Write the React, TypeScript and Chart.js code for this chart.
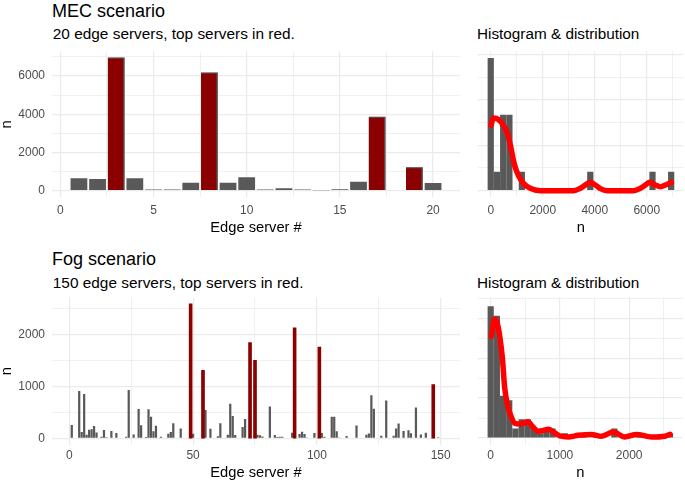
import React, { useEffect, useRef } from 'react';
import { Chart, registerables } from 'chart.js';

Chart.register(...registerables);

// ---------------- DATA ----------------
// MEC scenario: 20 edge servers
const mecServers = [1, 2, 3, 4, 5, 6, 7, 8, 9, 10, 11, 12, 13, 14, 15, 16, 17, 18, 19, 20];
const mecCounts = [645, 610, 6970, 645, 60, 65, 419, 6190, 419, 698, 55, 122, 55, 25, 80, 471, 3872, 30, 1221, 401];
const mecTopServers = [3, 8, 17, 19];

// MEC histogram (30 bins) and density curve
const mecHistBinWidth = 239.3;
const mecHistCounts = [7, 1, 4, 4, 0, 1, 0, 0, 0, 0, 0, 0, 0, 0, 0, 0, 1, 0, 0, 0, 0, 0, 0, 0, 0, 0, 1, 0, 0, 1];
const mecDensityX = [10, 103, 296, 488, 643, 771, 900, 1067, 1260, 1517, 1902, 3187, 3444, 3637, 3830, 4023, 4215, 4472, 5500, 5757, 5950, 6117, 6336, 6529, 6721, 6950];
const mecDensityE4 = [7.2, 8.0, 7.85, 7.2, 6.3, 4.8, 3.0, 1.65, 0.8, 0.26, 0, 0, 0.26, 0.62, 0.92, 0.62, 0.22, 0, 0, 0.26, 0.62, 0.92, 0.62, 0.44, 0.62, 0.92];

// Fog scenario: 150 edge servers (servers without a visible bar omitted)
const fogServers = [1, 4, 5, 6, 7, 8, 9, 10, 11, 13, 14, 15, 17, 19, 23, 24, 26, 28, 29, 31, 32, 33, 34, 35, 37, 40, 41, 42, 45, 49, 50, 54, 55, 57, 60, 61, 64, 65, 66, 67, 70, 71, 73, 75, 76, 77, 78, 81, 83, 84, 85, 86, 90, 91, 93, 94, 95, 96, 99, 101, 102, 103, 106, 107, 108, 109, 112, 116, 120, 121, 122, 123, 126, 128, 131, 132, 133, 135, 137, 138, 140, 142, 144, 147, 149];
const fogCounts = [255, 915, 120, 855, 70, 165, 175, 235, 110, 30, 160, 20, 140, 103, 30, 930, 72, 565, 252, 25, 560, 415, 138, 240, 30, 87, 122, 292, 190, 2590, 87, 1305, 546, 186, 40, 289, 68, 665, 430, 62, 220, 373, 1840, 1500, 68, 60, 35, 615, 62, 25, 28, 28, 105, 2125, 85, 128, 83, 15, 100, 1755, 100, 30, 415, 415, 138, 15, 42, 248, 67, 93, 833, 572, 48, 730, 48, 190, 285, 143, 157, 99, 595, 74, 105, 1030, 20];
const fogTopServers = [49, 54, 73, 75, 91, 101, 147];

// Fog histogram (30 bins) and density curve
const fogHistBinWidth = 89.3;
const fogHistCounts = [28, 26, 9, 8, 2, 4, 4, 2, 1, 2, 2, 0, 1, 0, 0, 1, 0, 1, 0, 0, 2, 0, 0, 0, 1, 0, 0, 0, 0, 1];
const fogDensityX = [10, 53, 96, 135, 169, 202, 251, 299, 347, 424, 496, 545, 593, 689, 761, 834, 906, 1002, 1118, 1263, 1455, 1600, 1769, 1937, 2106, 2323, 2516, 2590];
const fogDensityE4 = [25.5, 29.8, 28.7, 25.0, 20.0, 12.6, 7.7, 5.2, 3.7, 3.5, 3.8, 4.1, 3.1, 1.7, 1.9, 2.2, 1.5, 0.5, 0.25, 0.66, 0.9, 0.41, 1.48, 0.25, 0.9, 0.25, 0.45, 0.9];

// ---------------- STYLE ----------------
const FONT = '"Liberation Sans", Arial, Helvetica, sans-serif';
const GREY = '#595959';
const RED = '#8B0000';
const LINE_RED = '#FF0000';
const GRID = '#EBEBEB';
const TICK_COLOR = '#4D4D4D';

type AxisCfg = {
  min: number;
  max: number;
  step: number;
  majorStep: number;
  labels: boolean;
  title?: string;
  tickPadding?: number;
  titlePadding?: { top: number; bottom: number };
  titleLineHeight?: number;
  size: number;
  isX: boolean;
};

function gridAxis(c: AxisCfg): any {
  const isMajor = (v: number) => Math.abs(v / c.majorStep - Math.round(v / c.majorStep)) < 1e-6;
  return {
    type: 'linear',
    min: c.min,
    max: c.max,
    bounds: 'data',
    offset: false,
    afterBuildTicks: (scale: any) => {
      const k0 = Math.ceil(c.min / c.step - 1e-9);
      const k1 = Math.floor(c.max / c.step + 1e-9);
      const t: any[] = [];
      for (let k = k0; k <= k1; k++) t.push({ value: k * c.step });
      scale.ticks = t;
    },
    afterFit: (scale: any) => {
      if (c.isX) scale.height = c.size;
      else scale.width = c.size;
      scale.paddingTop = 0;
      scale.paddingBottom = 0;
      scale.paddingLeft = 0;
      scale.paddingRight = 0;
    },
    grid: {
      offset: false,
      drawTicks: false,
      color: GRID,
      lineWidth: (ctx: any) => (ctx.tick && isMajor(ctx.tick.value) ? 1.2 : 0.75),
    },
    border: { display: false },
    ticks: {
      display: c.labels,
      autoSkip: false,
      maxRotation: 0,
      minRotation: 0,
      padding: c.tickPadding ?? 0,
      color: TICK_COLOR,
      font: { family: FONT, size: 12 },
      callback: (v: any) => (isMajor(Number(v)) ? String(Math.round(Number(v))) : ''),
    },
    title: c.title
      ? {
          display: true,
          text: c.title,
          color: '#000000',
          font: { family: FONT, size: 14.7, lineHeight: c.titleLineHeight ?? 1.2 },
          padding: c.titlePadding ?? { top: 0, bottom: 0 },
        }
      : { display: false },
  };
}

function baseOptions(padding: any, x: any, y: any): any {
  return {
    responsive: false,
    maintainAspectRatio: false,
    animation: false,
    devicePixelRatio: 1,
    events: [],
    layout: { padding },
    plugins: { legend: { display: false }, tooltip: { enabled: false }, title: { display: false } },
    scales: { x, y },
  };
}

function serverConfig(servers: number[], counts: number[], top: number[], opts: any): any {
  const lookup = (s: number) => counts[servers.indexOf(s)];
  return {
    type: 'bar',
    data: {
      datasets: [
        {
          type: 'bar',
          data: servers.map((s, i) => ({ x: s, y: counts[i] })),
          backgroundColor: GREY,
          barPercentage: 0.9,
          categoryPercentage: 1,
          grouped: false,
          inflateAmount: 0,
          order: 2,
        },
        {
          type: 'bar',
          data: top.map((s) => ({ x: s, y: lookup(s) })),
          backgroundColor: RED,
          borderColor: GREY,
          borderWidth: opts.redBorder,
          borderSkipped: 'start',
          barPercentage: 0.9,
          categoryPercentage: 1,
          grouped: false,
          inflateAmount: opts.redInflate,
          order: 1,
        },
      ],
    },
    options: baseOptions(opts.padding, opts.x, opts.y),
  };
}

function histConfig(binWidth: number, hist: number[], dx: number[], dyE4: number[], opts: any): any {
  const total = hist.reduce((a, b) => a + b, 0);
  return {
    type: 'bar',
    data: {
      datasets: [
        {
          type: 'line',
          data: dx.map((x, i) => ({ x, y: dyE4[i] * 1e-4 })),
          borderColor: LINE_RED,
          borderWidth: 5.5,
          pointRadius: 0,
          cubicInterpolationMode: 'monotone',
          borderCapStyle: 'round',
          borderJoinStyle: 'round',
          fill: false,
          order: 0,
        },
        {
          type: 'bar',
          data: hist.map((c, i) => ({ x: i * binWidth, y: c / (total * binWidth) })),
          backgroundColor: GREY,
          barPercentage: 1,
          categoryPercentage: 1,
          grouped: false,
          inflateAmount: 0,
          order: 1,
        },
      ],
    },
    options: baseOptions(opts.padding, opts.x, opts.y),
  };
}

// ---------------- PANELS ----------------
function ChartCanvas(props: { left: number; top: number; width: number; height: number; make: () => any }) {
  const ref = useRef<HTMLCanvasElement>(null);
  useEffect(() => {
    const chart = new Chart(ref.current as HTMLCanvasElement, props.make());
    return () => chart.destroy();
  }, []);
  return (
    <canvas
      ref={ref}
      width={props.width}
      height={props.height}
      style={{ position: 'absolute', left: props.left, top: props.top, width: props.width, height: props.height }}
    />
  );
}

const makeMecBars = () =>
  serverConfig(mecServers, mecCounts, mecTopServers, {
    redBorder: { top: 1, right: 1.3, left: 0, bottom: 0 },
    redInflate: 0,
    padding: { left: 0, right: 2, top: 7.3, bottom: 0 },
    x: gridAxis({ min: -0.445, max: 21.445, step: 2.5, majorStep: 5, labels: true, title: 'Edge server #', tickPadding: 6.5, titlePadding: { top: 0, bottom: 3.3 }, size: 42.7, isX: true }),
    y: gridAxis({ min: -347.5, max: 7297.5, step: 1000, majorStep: 2000, labels: true, title: 'n', tickPadding: 7, titlePadding: { top: 0, bottom: 0 }, titleLineHeight: 0.9, size: 52, isX: false }),
  });

const makeMecHist = () =>
  histConfig(mecHistBinWidth, mecHistCounts, mecDensityX, mecDensityE4, {
    padding: { left: 16.3, right: 1.4, top: 7.3, bottom: 0 },
    x: gridAxis({ min: -478.6, max: 7418, step: 1000, majorStep: 2000, labels: true, title: 'n', tickPadding: 5.8, titlePadding: { top: 0, bottom: 3.3 }, size: 42.7, isX: true }),
    y: gridAxis({ min: -7.31e-5, max: 1.5358e-3, step: 2.5e-4, majorStep: 5e-4, labels: false, size: 0, isX: false }),
  });

const makeFogBars = () =>
  serverConfig(fogServers, fogCounts, fogTopServers, {
    redBorder: 0,
    redInflate: 0.7,
    padding: { left: 0, right: 2, top: 7.4, bottom: 0 },
    x: gridAxis({ min: -6.99, max: 157.8, step: 25, majorStep: 50, labels: true, title: 'Edge server #', tickPadding: 3.8, titlePadding: { top: 0, bottom: 1.5 }, size: 38, isX: true }),
    y: gridAxis({ min: -129.5, max: 2719.5, step: 500, majorStep: 1000, labels: true, title: 'n', tickPadding: 7, titlePadding: { top: 0, bottom: 0 }, titleLineHeight: 0.9, size: 52, isX: false }),
  });

const makeFogHist = () =>
  histConfig(fogHistBinWidth, fogHistCounts, fogDensityX, fogDensityE4, {
    padding: { left: 16.3, right: 2.5, top: 7.4, bottom: 0 },
    x: gridAxis({ min: -179, max: 2770, step: 500, majorStep: 1000, labels: true, title: 'n', tickPadding: 3.8, titlePadding: { top: 0, bottom: 1.5 }, size: 38, isX: true }),
    y: gridAxis({ min: -1.76e-4, max: 3.525e-3, step: 5e-4, majorStep: 1e-3, labels: false, size: 0, isX: false }),
  });

function Label(props: { left: number; top: number; size: number; text: string }) {
  return (
    <div
      style={{
        position: 'absolute',
        left: props.left,
        top: props.top,
        fontFamily: FONT,
        fontSize: props.size,
        lineHeight: 1,
        whiteSpace: 'nowrap',
        color: '#000000',
      }}
    >
      {props.text}
    </div>
  );
}

export default function App() {
  return (
    <div style={{ position: 'fixed', left: 0, top: 0, width: 685, height: 483, background: '#ffffff', overflow: 'hidden' }}>
      <Label left={52} top={1.5} size={18} text="MEC scenario" />
      <Label left={52.8} top={26} size={15.4} text="20 edge servers, top servers in red." />
      <Label left={477} top={26} size={15.3} text="Histogram & distribution" />
      <Label left={52} top={249.8} size={18} text="Fog scenario" />
      <Label left={52.8} top={275} size={15.4} text="150 edge servers, top servers in red." />
      <Label left={477} top={275} size={15.3} text="Histogram & distribution" />
      <ChartCanvas left={0} top={44} width={462} height={196} make={makeMecBars} />
      <ChartCanvas left={462} top={44} width={223} height={196} make={makeMecHist} />
      <ChartCanvas left={0} top={290} width={462} height={193} make={makeFogBars} />
      <ChartCanvas left={462} top={290} width={223} height={193} make={makeFogHist} />
    </div>
  );
}
